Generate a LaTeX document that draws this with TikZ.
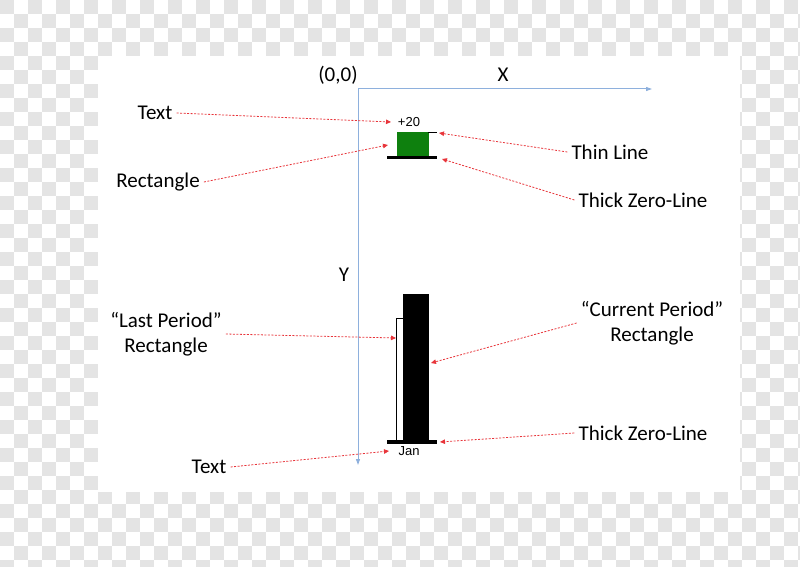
\documentclass[tikz,border=0pt]{standalone}
\usepackage{fontspec}
\setmainfont{Carlito}
\newfontfamily\chartfont{Liberation Sans}
\usetikzlibrary{arrows.meta}
\definecolor{axisblue}{HTML}{8EB0DD}
\definecolor{pointred}{HTML}{E8343A}
\definecolor{bargreen}{HTML}{0E800E}
\definecolor{checkgray}{HTML}{E4E4E4}
\tikzset{
  callout/.style={font=\fontsize{21}{25}\selectfont, inner sep=4pt},
  chartlbl/.style={font=\chartfont\fontsize{13}{15}\selectfont, inner sep=0pt},
  pointer/.style={pointred, line width=0.8pt, dash pattern=on 2pt off 1.5pt,
    -{Triangle[length=5pt,width=4.5pt]}},
  axis/.style={axisblue, line width=1pt, -{Triangle[length=6pt,width=4pt]}}
}
\begin{document}
\begin{tikzpicture}[x=1pt,y=-1pt]
\useasboundingbox (0,0) rectangle (800,567);
% background
\foreach \j in {0,...,40}
  \foreach \i in {0,2,...,56}
    \fill[checkgray] ({14*(\i+mod(\j,2))},{14*\j}) rectangle ++(14,14);
\fill[white] (98,56) rectangle (740,492);

% axes
\coordinate (origin) at (358,89);
\coordinate (xend) at (652,89);
\coordinate (yend) at (358,465);
\draw[axis] (origin) -- (xend);
\draw[axis] (origin) -- (yend);
\node[callout] (orig) at (338,75) {(0,0)};
\node[callout] (xlbl) at (503,75) {X};
\node[callout] (ylbl) at (344,275) {Y};

% top chart
\fill[bargreen] (397,132) rectangle (429,156);
\draw[line width=0.6pt] (428,132) -- (437,132);
\fill (387,155.5) rectangle (437,159);
\node[chartlbl] (plus) at (409,122) {+20};

% bottom chart
\draw[line width=0.8pt, fill=white] (396.5,318) rectangle (403.5,441);
\fill (403,294) rectangle (428.5,441);
\fill (387,440) rectangle (437,444);
\node[chartlbl] (jan) at (409,451) {Jan};

% arrow targets
\coordinate (tText) at (391,122);
\coordinate (tRect) at (388,145);
\coordinate (tThin) at (439,133);
\coordinate (tZeroA) at (442,159);
\coordinate (tLast) at (396,338);
\coordinate (tCur) at (431,363);
\coordinate (tZeroB) at (440,442);
\coordinate (tJan) at (389,451);

% labels
\node[callout] (txtA) at (155,113) {Text};
\node[callout] (rectA) at (158,182) {Rectangle};
\node[callout] (thin) at (610,152) {Thin Line};
\node[callout] (zeroA) at (643,200) {Thick Zero-Line};
\node[callout, align=center] (last) at (166,334) {“Last Period”\\Rectangle};
\node[callout, align=center] (cur) at (652,323) {“Current Period”\\Rectangle};
\node[callout] (zeroB) at (643,433) {Thick Zero-Line};
\node[callout] (txtB) at (209,467) {Text};

\draw[pointer] (txtA.east) -- (tText);
\draw[pointer] (rectA.east) -- (tRect);
\draw[pointer] (thin.west) -- (tThin);
\draw[pointer] (zeroA.west) -- (tZeroA);
\draw[pointer] (last.east) -- (tLast);
\draw[pointer] (cur.west) -- (tCur);
\draw[pointer] (zeroB.west) -- (tZeroB);
\draw[pointer] (txtB.east) -- (tJan);
\end{tikzpicture}
\end{document}
